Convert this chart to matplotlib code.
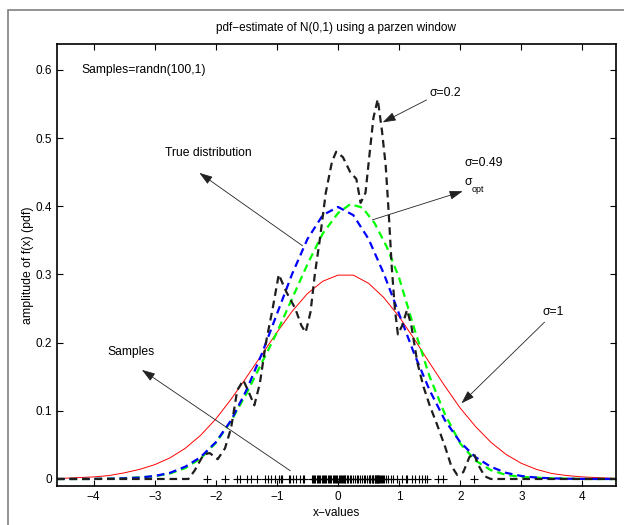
import matplotlib
matplotlib.use('Agg')
import matplotlib.pyplot as plt
from matplotlib.patches import Rectangle

plt.rcParams['font.family'] = ['Liberation Sans', 'DejaVu Sans']
plt.rcParams['lines.scale_dashes'] = False

# samples drawn as '+' on the x axis
samples = [-2.14, -1.85, -1.66, -1.61, -1.49, -1.43, -1.33, -1.20, -1.14, -1.09,
           -1.03, -0.96, -0.94, -0.91, -0.81, -0.78, -0.73, -0.68, -0.62, -0.55,
           -0.43, -0.41, -0.39, -0.37, -0.35, -0.33, -0.31, -0.29, -0.27, -0.25,
           -0.23, -0.21, -0.19, -0.17, -0.15, -0.13, -0.11, -0.09, -0.07, -0.05,
           -0.03, -0.01, 0.01, 0.03, 0.05, 0.07, 0.09, 0.11, 0.14, 0.17,
           0.20, 0.22, 0.25, 0.28, 0.31, 0.33, 0.36, 0.39, 0.42, 0.44,
           0.47, 0.50, 0.52, 0.53, 0.55, 0.57, 0.58, 0.60, 0.61, 0.62,
           0.64, 0.65, 0.66, 0.68, 0.70, 0.72, 0.75, 0.78, 0.82, 0.86,
           0.90, 0.96, 1.04, 1.11, 1.13, 1.21, 1.26, 1.33, 1.37, 1.43,
           1.46, 1.64, 1.72, 2.23, -0.58, 0.08, 0.12, 0.63, 0.67, 0.74]

# sigma = 1 estimate (red)
x_red = [-4.6, -4.5, -4.25, -4.0, -3.75, -3.5, -3.25, -3.0, -2.75, -2.5, -2.25, -2.0,
         -1.75, -1.5, -1.25, -1.0, -0.75, -0.5, -0.25, 0.0, 0.25, 0.5, 0.75, 1.0,
         1.25, 1.5, 1.75, 2.0, 2.25, 2.5, 2.75, 3.0, 3.25, 3.5, 3.75, 4.0, 4.25, 4.5, 4.6]
y_red = [0.001, 0.001, 0.002, 0.003, 0.005, 0.009, 0.014, 0.021, 0.031, 0.045, 0.064, 0.088,
         0.117, 0.149, 0.182, 0.215, 0.246, 0.272, 0.290, 0.299, 0.299, 0.287, 0.266, 0.238,
         0.205, 0.170, 0.136, 0.104, 0.077, 0.054, 0.036, 0.023, 0.014, 0.008, 0.005, 0.003,
         0.002, 0.001, 0.001]

# true distribution N(0,1) (blue)
x_blue = [-4.6, -4.25, -4.0, -3.75, -3.5, -3.25, -3.0, -2.75, -2.5, -2.25, -2.0, -1.75,
          -1.5, -1.25, -1.0, -0.75, -0.5, -0.25, 0.0, 0.25, 0.5, 0.75, 1.0, 1.25,
          1.5, 1.75, 2.0, 2.25, 2.5, 2.75, 3.0, 3.25, 3.5, 3.75, 4.0, 4.25, 4.6]
y_blue = [0.0, 0.0, 0.0001, 0.0004, 0.0009, 0.002, 0.0044, 0.009, 0.018, 0.032, 0.054, 0.086,
          0.130, 0.183, 0.242, 0.301, 0.352, 0.387, 0.399, 0.387, 0.352, 0.301, 0.242, 0.183,
          0.130, 0.086, 0.054, 0.032, 0.018, 0.009, 0.0044, 0.002, 0.0009, 0.0004, 0.0001, 0.0, 0.0]

# sigma = 0.49 (sigma_opt) estimate (green)
x_green = [-4.6, -4.0, -3.5, -3.0, -2.75, -2.5, -2.25, -2.0, -1.75, -1.5, -1.25, -1.0,
           -0.75, -0.5, -0.25, 0.0, 0.2, 0.4, 0.6, 0.8, 1.0, 1.25, 1.5, 1.75,
           2.0, 2.25, 2.5, 2.75, 3.0, 3.5, 4.0, 4.6]
y_green = [0.0, 0.0, 0.001, 0.004, 0.008, 0.016, 0.030, 0.053, 0.085, 0.125, 0.170, 0.215,
           0.265, 0.315, 0.360, 0.390, 0.403, 0.398, 0.375, 0.340, 0.295, 0.220, 0.150, 0.095,
           0.052, 0.027, 0.013, 0.006, 0.003, 0.001, 0.0, 0.0]

# sigma = 0.2 estimate (black)
x_black = [-4.6, -2.45, -2.35, -2.2, -2.1, -1.97, -1.85, -1.75, -1.65, -1.55, -1.45, -1.37,
           -1.28, -1.18, -1.07, -0.97, -0.85, -0.7, -0.6, -0.53, -0.45, -0.38, -0.3, -0.2,
           -0.1, -0.03, 0.08, 0.2, 0.3, 0.37, 0.45, 0.52, 0.58, 0.65, 0.72, 0.78,
           0.83, 0.88, 0.93, 0.98, 1.05, 1.13, 1.2, 1.3, 1.4, 1.5, 1.62, 1.75,
           1.85, 1.95, 2.05, 2.15, 2.22, 2.3, 2.4, 2.5, 4.6]
y_black = [0.0, 0.0, 0.012, 0.036, 0.038, 0.029, 0.045, 0.075, 0.13, 0.145, 0.125, 0.108,
           0.14, 0.2, 0.25, 0.30, 0.275, 0.25, 0.225, 0.215, 0.245, 0.30, 0.35, 0.42,
           0.465, 0.48, 0.472, 0.45, 0.44, 0.405, 0.42, 0.48, 0.53, 0.557, 0.51, 0.46,
           0.39, 0.31, 0.25, 0.212, 0.225, 0.248, 0.225, 0.17, 0.135, 0.108, 0.08, 0.048,
           0.02, 0.006, 0.01, 0.032, 0.038, 0.02, 0.004, 0.0, 0.0]

fig = plt.figure(figsize=(6.24, 5.25), dpi=100)
fig.patches.append(Rectangle((8 / 624, -0.1), 1.0, 1.1 - 10 / 525, transform=fig.transFigure,
                             fill=False, edgecolor='#808080', linewidth=1.2))
ax = fig.add_axes([57 / 624, 39 / 525, 559 / 624, 442 / 525])

ax.plot(x_red, y_red, color='red', linewidth=0.7)
ax.plot(x_green, y_green, color=(0, 1, 0), linewidth=1.6, dashes=(5.5, 3.5))
ax.plot(x_blue, y_blue, color=(0, 0, 1), linewidth=1.6, dashes=(5.5, 3.5))
ax.plot(x_black, y_black, color='#1e1e1e', linewidth=1.6, dashes=(5.5, 3.5))
ax.plot(samples, [0] * len(samples), '+', color='black', markersize=6, markeredgewidth=0.8)

ax.set_xlim(-4.6, 4.55)
ax.set_ylim(-0.0103, 0.638)
ax.set_xticks(range(-4, 5))
ax.set_yticks([0, 0.1, 0.2, 0.3, 0.4, 0.5, 0.6])
ax.set_yticklabels(['0', '0.1', '0.2', '0.3', '0.4', '0.5', '0.6'])
ax.tick_params(direction='in', top=True, right=True, length=4, width=0.8, labelsize=8.5)
for s in ax.spines.values():
    s.set_linewidth(1.2)

ax.set_title('pdf\u2212estimate of N(0,1) using a parzen window', fontsize=8.5, pad=9)
ax.set_xlabel('x\u2212values', fontsize=8.6, labelpad=3)
ax.set_ylabel('amplitude of f(x) (pdf)', fontsize=8.8, labelpad=1)

txt = dict(fontsize=8.7, va='center', ha='left')
ax.text(-4.20, 0.600, 'Samples=randn(100,1)', **txt)
ax.text(1.50, 0.566, '\u03c3=0.2', **txt)
ax.text(2.07, 0.463, '\u03c3=0.49', **txt)
ax.text(2.07, 0.435, '\u03c3', **txt)
ax.text(2.19, 0.424, 'opt', fontsize=6.5, va='center', ha='left')
ax.text(-2.84, 0.478, 'True distribution', **txt)
ax.text(-3.77, 0.186, 'Samples', **txt)
ax.text(3.35, 0.245, '\u03c3=1', **txt)

arrow = dict(arrowstyle='-|>,head_length=0.9,head_width=0.3', color='#222222', lw=0.6,
             mutation_scale=9, shrinkA=0, shrinkB=0)
# (head, tail) pairs
ax.annotate('', xy=(0.73, 0.523), xytext=(1.45, 0.556), arrowprops=arrow)
ax.annotate('', xy=(2.04, 0.422), xytext=(0.56, 0.38), arrowprops=arrow)
ax.annotate('', xy=(-2.27, 0.449), xytext=(-0.58, 0.342), arrowprops=arrow)
ax.annotate('', xy=(-3.21, 0.16), xytext=(-0.78, 0.012), arrowprops=arrow)
ax.annotate('', xy=(2.02, 0.111), xytext=(3.38, 0.23), arrowprops=arrow)

fig.savefig('out.png', dpi=100)
